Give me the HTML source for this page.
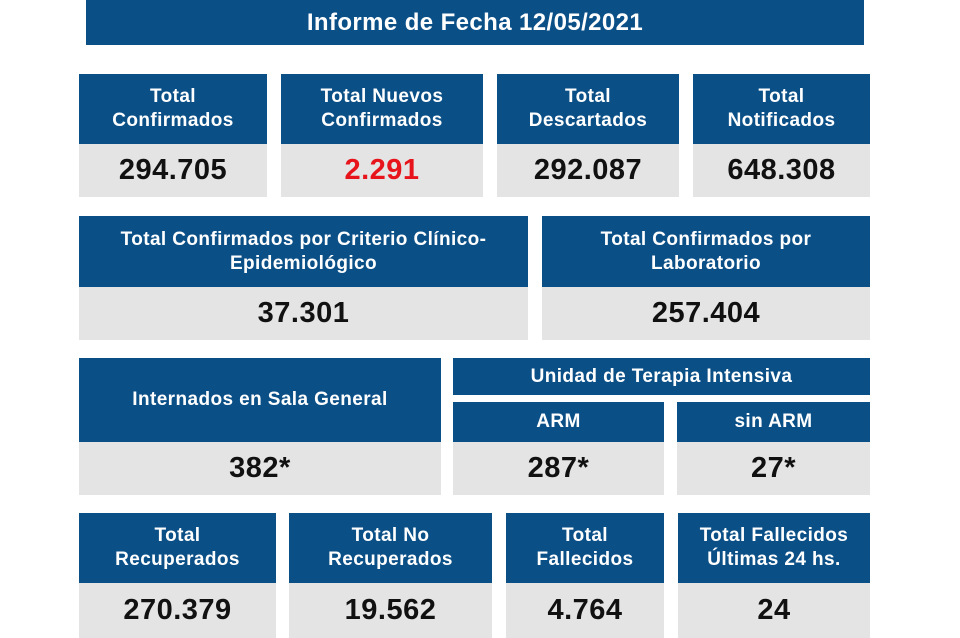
<!DOCTYPE html>
<html><head><meta charset="utf-8"><style>
body{margin:0;width:960px;height:638px;background:#fff;position:relative;overflow:hidden;font-family:"Liberation Sans",sans-serif;font-weight:bold}
.h,.v{position:absolute;display:flex;align-items:center;justify-content:center;text-align:center;box-sizing:border-box;white-space:nowrap}
.h{background:#0b4f87;color:#fff;font-size:19px;line-height:24px;letter-spacing:0.4px}
.v{background:#e4e4e4;color:#111;font-size:29px;letter-spacing:0.5px}
</style></head><body>
<div class="h" style="left:86px;top:0;width:778px;height:45px;font-size:24px">Informe de Fecha 12/05/2021</div>

<div class="h" style="left:79px;top:74px;width:188px;height:70px">Total<br>Confirmados</div>
<div class="v" style="left:79px;top:144px;width:188px;height:53px">294.705</div>
<div class="h" style="left:281px;top:74px;width:202px;height:70px">Total Nuevos<br>Confirmados</div>
<div class="v" style="left:281px;top:144px;width:202px;height:53px;color:#e8141b">2.291</div>
<div class="h" style="left:497px;top:74px;width:182px;height:70px">Total<br>Descartados</div>
<div class="v" style="left:497px;top:144px;width:182px;height:53px">292.087</div>
<div class="h" style="left:693px;top:74px;width:177px;height:70px">Total<br>Notificados</div>
<div class="v" style="left:693px;top:144px;width:177px;height:53px">648.308</div>

<div class="h" style="left:79px;top:216px;width:449px;height:71px">Total Confirmados por Criterio Clínico-<br>Epidemiológico</div>
<div class="v" style="left:79px;top:287px;width:449px;height:53px">37.301</div>
<div class="h" style="left:542px;top:216px;width:328px;height:71px">Total Confirmados por<br>Laboratorio</div>
<div class="v" style="left:542px;top:287px;width:328px;height:53px">257.404</div>

<div class="h" style="left:79px;top:358px;width:362px;height:84px">Internados en Sala General</div>
<div class="v" style="left:79px;top:442px;width:362px;height:53px">382*</div>
<div class="h" style="left:453px;top:358px;width:417px;height:37px">Unidad de Terapia Intensiva</div>
<div class="h" style="left:453px;top:402px;width:211px;height:40px">ARM</div>
<div class="v" style="left:453px;top:442px;width:211px;height:53px">287*</div>
<div class="h" style="left:677px;top:402px;width:193px;height:40px">sin ARM</div>
<div class="v" style="left:677px;top:442px;width:193px;height:53px">27*</div>

<div class="h" style="left:79px;top:513px;width:197px;height:70px">Total<br>Recuperados</div>
<div class="v" style="left:79px;top:583px;width:197px;height:55px">270.379</div>
<div class="h" style="left:289px;top:513px;width:203px;height:70px">Total No<br>Recuperados</div>
<div class="v" style="left:289px;top:583px;width:203px;height:55px">19.562</div>
<div class="h" style="left:506px;top:513px;width:158px;height:70px">Total<br>Fallecidos</div>
<div class="v" style="left:506px;top:583px;width:158px;height:55px">4.764</div>
<div class="h" style="left:678px;top:513px;width:192px;height:70px">Total Fallecidos<br>Últimas 24 hs.</div>
<div class="v" style="left:678px;top:583px;width:192px;height:55px">24</div>
</body></html>
